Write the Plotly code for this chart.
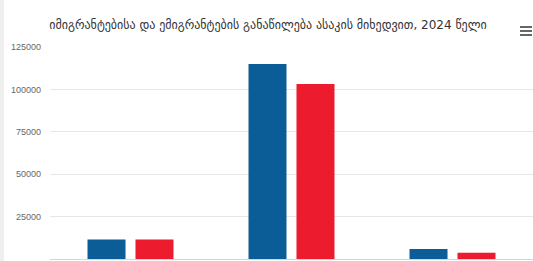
import plotly.graph_objects as go

title = "იმიგრანტებისა და ემიგრანტების განაწილება ასაკის მიხედვით, 2024 წელი"
categories = ["0-14", "15-64", "65+"]
immigrants = [11500, 115000, 5900]
emigrants = [11500, 103200, 3700]
series_names = ["იმიგრანტები", "ემიგრანტები"]
ytick_vals = [0, 25000, 50000, 75000, 100000, 125000]

fig = go.Figure()
fig.add_bar(x=categories, y=immigrants, name=series_names[0], marker_color="#0a5d97", marker_line_width=0)
fig.add_bar(x=categories, y=emigrants, name=series_names[1], marker_color="#ec1b2e", marker_line_width=0)

W, H = 533, 261
ml, mr, mt, mb = 50, 0, 47, 2

shapes = []
# left gray page edge
shapes.append(dict(type="rect", xref="paper", yref="paper",
                   x0=(0 - ml) / (W - ml - mr), x1=(4 - ml) / (W - ml - mr),
                   y0=-1, y1=2, fillcolor="#efefef", line_width=0, layer="below"))
# hamburger menu icon
for yy in (27, 31, 35):
    py = (H - mb - yy) / (H - mt - mb)
    shapes.append(dict(type="line", xref="paper", yref="paper",
                       x0=(520 - ml) / (W - ml - mr), x1=(532 - ml) / (W - ml - mr),
                       y0=py, y1=py, line=dict(color="#666666", width=2)))

fig.update_layout(
    width=W, height=H,
    margin=dict(l=ml, r=mr, t=mt, b=mb, autoexpand=False),
    paper_bgcolor="white", plot_bgcolor="white",
    showlegend=False,
    barmode="group", bargap=0.404, bargroupgap=0.208,
    title=dict(text=title, x=268 / W, xanchor="center", y=1 - 25 / H, yanchor="middle",
               font=dict(family="DejaVu Sans", size=12, color="#333333")),
    shapes=shapes,
    font=dict(family="Liberation Sans, Arial", size=9, color="#666666"),
)
fig.update_yaxes(range=[0, 125000], tickvals=ytick_vals, ticktext=[str(v) for v in ytick_vals],
                 showgrid=True, gridcolor="#e6e6e6", gridwidth=1, zeroline=False,
                 showline=False, ticks="", automargin=False, ticklabelstandoff=8,
                 tickfont=dict(size=9, color="#666666"))
fig.update_xaxes(showgrid=False, showline=True, linecolor="#ccd6eb", linewidth=1,
                 ticks="", automargin=False, showticklabels=False)

fig.write_html("out.html", config={"displayModeBar": False})
